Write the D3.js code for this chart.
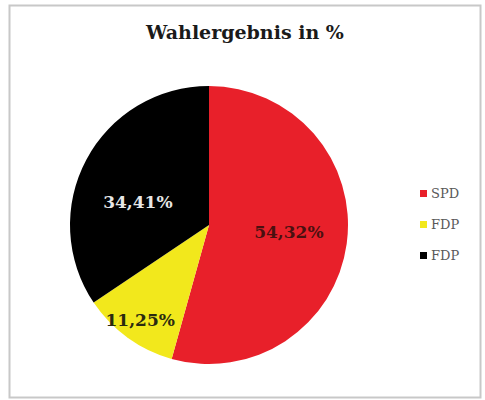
<!DOCTYPE html>
<html>
<head>
<meta charset="utf-8">
<script src="https://cdn.jsdelivr.net/npm/d3@7"></script>
<style>
  body { margin: 0; background: #fff; }
</style>
</head>
<body>
<div id="chart"></div>
<script>
// data
var parties = ["SPD", "FDP", "FDP"];
var shares = [54.32, 11.25, 34.41];
var colors = ["#e8202a", "#f2e81c", "#000000"];
var labelColors = ["#4a1010", "#2a2a10", "#e6e6e6"];

var W = 485, H = 400;

var svg = d3.select("#chart")
  .append("svg")
    .attr("width", W)
    .attr("height", H);

// chart frame
svg.append("rect")
  .attr("x", 9.5)
  .attr("y", 5.5)
  .attr("width", 471)
  .attr("height", 392)
  .attr("fill", "#fff")
  .attr("stroke", "#c8c8c8")
  .attr("stroke-width", 2);

svg.append("text")
  .attr("x", 245)
  .attr("y", 39)
  .attr("text-anchor", "middle")
  .style("font-family", "DejaVu Serif")
  .style("font-weight", "bold")
  .style("font-size", "19px")
  .attr("fill", "#1a1a1a")
  .text("Wahlergebnis in %");

var cx = 209, cy = 225, r = 139;

var data = shares.map(function(v, i) { return {name: parties[i], value: v, color: colors[i], lc: labelColors[i]}; });

var pie = d3.pie()
  .sort(null)
  .value(function(d) { return d.value; });

var arc = d3.arc().innerRadius(0).outerRadius(r);

var g = svg.append("g")
  .attr("transform", "translate(" + cx + "," + cy + ")");

var arcs = pie(data);

g.selectAll("path")
  .data(arcs)
  .enter().append("path")
    .attr("d", arc)
    .attr("fill", function(d) { return d.data.color; });

// labels: wide slices get a flattened placement, narrow ones are pushed outward
var fmt = function(v) { return v.toFixed(2).replace(".", ",") + "%"; };
g.selectAll("text.lbl")
  .data(arcs)
  .enter().append("text")
    .attr("class", "lbl")
    .attr("text-anchor", "middle")
    .attr("dy", "0.35em")
    .style("font-family", "DejaVu Serif")
    .style("font-weight", "bold")
    .style("font-size", "17px")
    .attr("fill", function(d) { return d.data.lc; })
    .text(function(d) { return fmt(d.data.value); })
    .attr("transform", function(d) {
      var half = (d.endAngle - d.startAngle) / 2;
      var mid = (d.startAngle + d.endAngle) / 2;
      var need = (this.getComputedTextLength() / 2 + 6) / Math.sin(Math.min(half, Math.PI / 2));
      var px, py;
      if (need > r * 0.55) {
        px = need * Math.sin(mid);
        py = -need * Math.cos(mid);
      } else {
        px = r * 0.58 * Math.sin(mid);
        py = -r * 0.35 * Math.cos(mid);
      }
      return "translate(" + px + "," + py + ")";
    });

// legend
var leg = svg.append("g")
  .attr("transform", "translate(420,193)");

var item = leg.selectAll("g")
  .data(data)
  .enter().append("g")
    .attr("transform", function(d, i) { return "translate(0," + (i * 31) + ")"; });

item.append("rect")
  .attr("x", 0)
  .attr("y", -3)
  .attr("width", 7)
  .attr("height", 7)
  .attr("fill", function(d) { return d.color; });

item.append("text")
  .attr("x", 11)
  .attr("y", 5)
  .style("font-family", "DejaVu Serif")
  .style("font-size", "13px")
  .attr("fill", "#595959")
  .text(function(d) { return d.name; });
</script>
</body>
</html>
